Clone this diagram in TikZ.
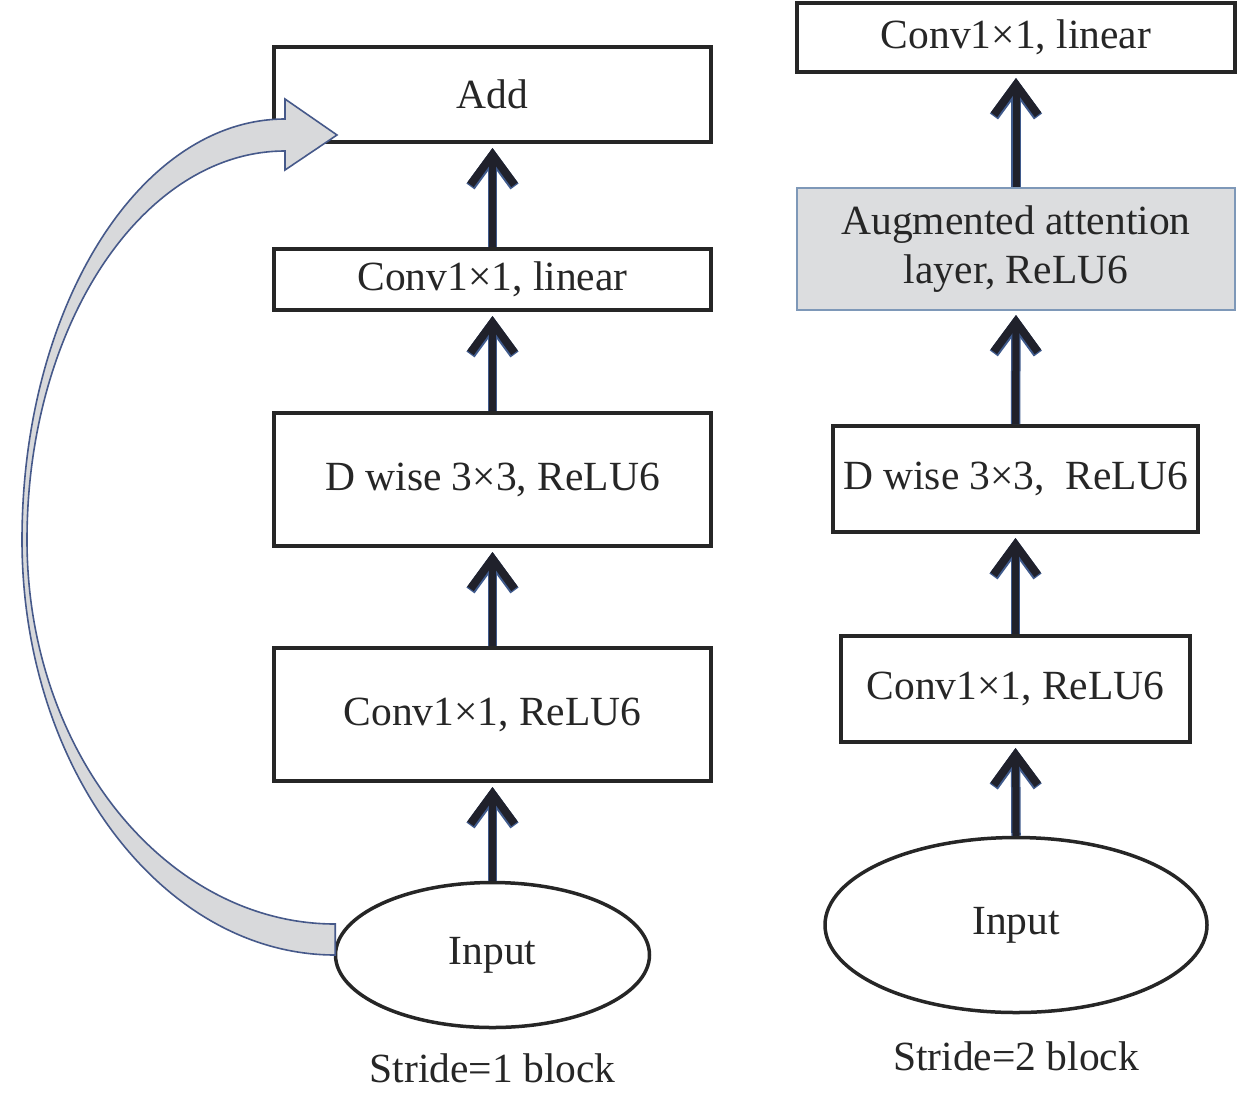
\documentclass[tikz,border=0pt]{standalone}
\usepackage{fontspec}
\setmainfont{Liberation Serif}
\usetikzlibrary{arrows.meta,shapes.geometric,calc}
\definecolor{boxline}{HTML}{262626}
\definecolor{attfill}{HTML}{DCDDDF}
\definecolor{attline}{HTML}{7E98B8}
\definecolor{bandfill}{HTML}{D8D9DB}
\definecolor{bandline}{HTML}{46598A}
\definecolor{shaft}{HTML}{20212B}
\definecolor{shaftedge}{HTML}{3F5A8C}
\begin{document}
\begin{tikzpicture}[x=1pt,y=-1pt,
  every node/.style={font=\fontsize{41.5}{49}\selectfont, text=boxline},
  blockbox/.style={draw=boxline, line width=4pt, inner sep=0pt, align=center},
  attbox/.style={draw=attline, fill=attfill, line width=2pt, inner sep=0pt, align=center},
  inputell/.style={draw=boxline, ellipse, line width=3.5pt, inner sep=0pt},
  uparrow/.style={draw=shaft, line width=7pt, shorten >=4pt,
     -{Straight Barb[length=30pt, width=44pt, line width=8pt]},
     preaction={draw=shaftedge, line width=9.5pt, shorten >=4pt,
     -{Straight Barb[length=30pt, width=44pt, line width=10pt]}}},
  band/.style={fill=bandfill, draw=bandline, line width=1.6pt, line join=miter}
]
\useasboundingbox (0,0) rectangle (1260,1096);

% left column
\node[blockbox, minimum width=437pt, minimum height=95pt] (add) at (492.5,94.5) {Add};
\node[blockbox, minimum width=437pt, minimum height=61pt] (llin) at (492.5,279.5) {Conv1×1, linear};
\node[blockbox, minimum width=437pt, minimum height=133pt] (ldw) at (492.5,479.5) {D wise 3×3, ReLU6};
\node[blockbox, minimum width=437pt, minimum height=133pt] (lrelu) at (492.5,714.5) {Conv1×1, ReLU6};
\node[inputell, minimum width=314pt, minimum height=145pt] (lin) at (492.5,955) {Input};
\node (lcap) at (492.5,1068) {Stride=1 block};

% right column
\node[blockbox, minimum width=438pt, minimum height=69pt] (rlin) at (1016,37.5) {Conv1×1, linear};
\node[attbox, minimum width=438pt, minimum height=122pt] (ratt) at (1016,249) {Augmented attention\\layer, ReLU6};
\node[blockbox, minimum width=365pt, minimum height=106pt] (rdw) at (1015.5,479) {D wise 3×3,\ \ ReLU6};
\node[blockbox, minimum width=349pt, minimum height=106pt] (rrelu) at (1015.5,689) {Conv1×1, ReLU6};
\node[inputell, minimum width=382pt, minimum height=175pt] (rin) at (1016,925) {Input};
\node (rcap) at (1016,1056) {Stride=2 block};

% arrows
\draw[uparrow] (lin.north) -- (lrelu.south);
\draw[uparrow] (lrelu.north) -- (ldw.south);
\draw[uparrow] (ldw.north) -- (llin.south);
\draw[uparrow] (llin.north) -- (add.south);
\draw[uparrow] (rin.north) -- (rrelu.south);
\draw[uparrow] (rrelu.north) -- (rdw.south);
\draw[uparrow] (rdw.north) -- (ratt.south);
\draw[uparrow] (ratt.north) -- (rlin.south);

% curved skip arrow
\coordinate (bu) at ($(lin.west)+(1.5,-31)$);
\coordinate (bl) at ($(lin.west)+(1.5,0)$);
\coordinate (tip) at (337,135);
\draw[band] (bu) .. controls (166,924) and (27,752) .. (27,540)
  .. controls (27,325) and (143,151) .. (285,151)
  -- (285,170) -- (tip) -- (285,99) -- (285,119)
  .. controls (140,119) and (22,307) .. (22,540)
  .. controls (22,769) and (163,955) .. (bl) -- cycle;
\end{tikzpicture}
\end{document}
